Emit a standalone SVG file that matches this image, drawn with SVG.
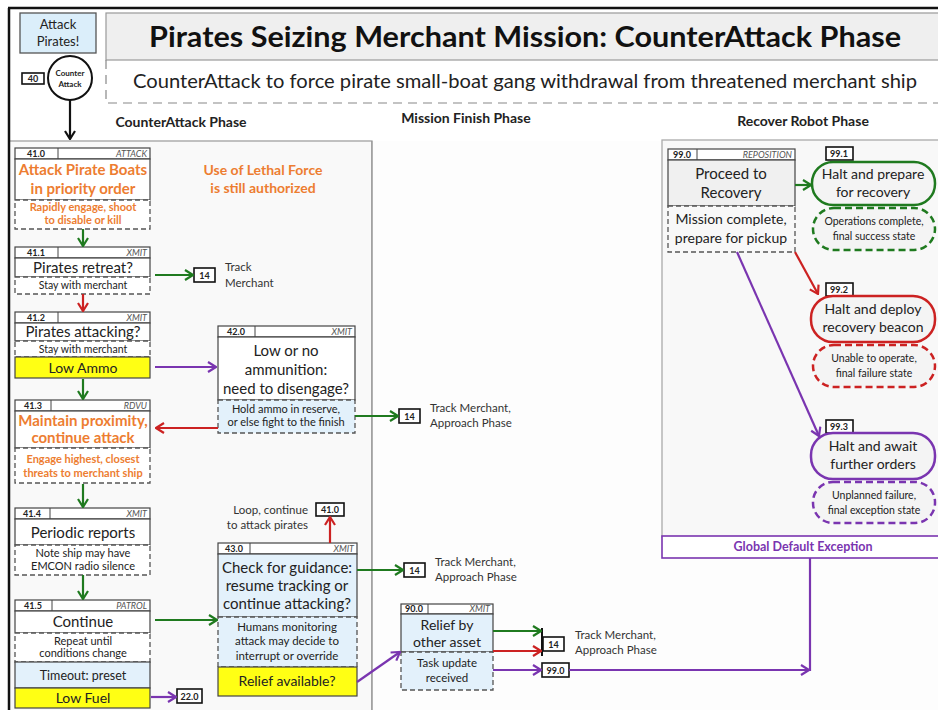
<svg xmlns="http://www.w3.org/2000/svg" width="938" height="710" viewBox="0 0 938 710">
<defs>
<style>
text{font-family:Lato,"Liberation Sans",sans-serif;fill:#222}
.c{text-anchor:middle}
.num{font-size:9px;font-weight:bold;text-anchor:middle}
.tag{font-size:9px;font-style:italic;text-anchor:end;fill:#555}
.hd{fill:#fff;stroke:#444;stroke-width:1.2}
.bd{fill:#fff;stroke:#444;stroke-width:1.2}
.bdb{fill:#e3f1fb;stroke:#444;stroke-width:1.2}
.bdg{fill:#f0f0f0;stroke:#444;stroke-width:1.2}
.ds{fill:#fff;stroke:#555;stroke-width:1.3;stroke-dasharray:5,3}
.dsb{fill:#e3f1fb;stroke:#555;stroke-width:1.3;stroke-dasharray:5,3}
.yl{fill:#ffff14;stroke:#444;stroke-width:1.2}
.t14{font-size:14px;text-anchor:middle}
.t15{font-size:15px;text-anchor:middle}
.t10{font-size:10.5px;text-anchor:middle}
.t11{font-size:11px;text-anchor:middle}
.or{fill:#ed7d31;font-weight:bold}
.ref{fill:#fff;stroke:#111;stroke-width:1.6}
.refn{font-size:9px;font-weight:bold;text-anchor:middle}
.lbl{font-size:11.5px;fill:#333}
.g{stroke:#1f7a1f;stroke-width:2.2;fill:none;marker-end:url(#ag)}
.r{stroke:#cc2222;stroke-width:2.2;fill:none;marker-end:url(#ar)}
.p{stroke:#7a35b0;stroke-width:2.2;fill:none;marker-end:url(#ap)}
.k{stroke:#111;stroke-width:2.2;fill:none;marker-end:url(#ak)}
.phase{font-size:14px;font-weight:bold;text-anchor:middle}
</style>
<marker id="ag" viewBox="0 0 10 12" refX="9" refY="6" markerWidth="10" markerHeight="12" markerUnits="userSpaceOnUse" orient="auto"><path d="M1,1 L9,6 L1,11" fill="none" stroke="#1f7a1f" stroke-width="2.2"/></marker>
<marker id="ar" viewBox="0 0 10 12" refX="9" refY="6" markerWidth="10" markerHeight="12" markerUnits="userSpaceOnUse" orient="auto"><path d="M1,1 L9,6 L1,11" fill="none" stroke="#cc2222" stroke-width="2.2"/></marker>
<marker id="ap" viewBox="0 0 10 12" refX="9" refY="6" markerWidth="10" markerHeight="12" markerUnits="userSpaceOnUse" orient="auto"><path d="M1,1 L9,6 L1,11" fill="none" stroke="#7a35b0" stroke-width="2.2"/></marker>
<marker id="ak" viewBox="0 0 10 12" refX="9" refY="6" markerWidth="10" markerHeight="12" markerUnits="userSpaceOnUse" orient="auto"><path d="M1,1 L9,6 L1,11" fill="none" stroke="#111" stroke-width="2.2"/></marker>
</defs>
<rect x="0" y="0" width="938" height="710" fill="#fff"/>
<g id="frame">
<rect x="9" y="141" width="363" height="572" fill="#f9f9f9" stroke="#999" stroke-width="1.2"/>
<rect x="372" y="141" width="570" height="572" fill="#fdfdfd"/>
<line x1="372" y1="141" x2="372" y2="710" stroke="#999" stroke-width="1.5"/>
<rect x="662" y="140" width="280" height="397" fill="#f8f8f8" stroke="#aaa" stroke-width="1.3"/>
<line x1="8" y1="8" x2="938" y2="8" stroke="#111" stroke-width="2.5"/>
<line x1="9" y1="8" x2="9" y2="710" stroke="#111" stroke-width="2.5"/>
<rect x="106" y="13" width="836" height="47" fill="#efefef" stroke="#999" stroke-width="1.2"/>
<text x="525" y="47" font-size="28" font-weight="bold" text-anchor="middle" textLength="752" lengthAdjust="spacingAndGlyphs" style="fill:#111">Pirates Seizing Merchant Mission: CounterAttack Phase</text>
<path d="M106,60 V103 H938" fill="none" stroke="#888" stroke-width="1.2" stroke-dasharray="9,6"/>
<text x="525" y="88" font-size="19" text-anchor="middle" textLength="784" lengthAdjust="spacingAndGlyphs">CounterAttack to force pirate small-boat gang withdrawal from threatened merchant ship</text>
<text x="181" y="127" class="phase">CounterAttack Phase</text>
<text x="466" y="123" class="phase">Mission Finish Phase</text>
<text x="803" y="126" class="phase">Recover Robot Phase</text>
<text x="263" y="175" class="t14 or">Use of Lethal Force</text>
<text x="263" y="193" class="t14 or">is still authorized</text>
</g>
<g id="start">
<rect x="20" y="13" width="76" height="40" fill="#dbeefa" stroke="#555" stroke-width="1.3"/>
<text x="58" y="29" font-size="13" text-anchor="middle">Attack</text>
<text x="58" y="46" font-size="13" text-anchor="middle">Pirates!</text>
<rect x="22" y="73" width="22" height="11" class="ref"/>
<text x="33" y="82" class="refn" font-size="8">40</text>
<circle cx="70" cy="78" r="22" fill="#fff" stroke="#111" stroke-width="2"/>
<text x="70" y="76" font-size="8" font-weight="bold" text-anchor="middle">Counter</text>
<text x="70" y="87" font-size="8" font-weight="bold" text-anchor="middle">Attack</text>
</g>
<g id="n41-0">
<rect x="15" y="148" width="135" height="11" class="hd"/><line x1="58" y1="148" x2="58" y2="159" stroke="#444"/>
<text x="36" y="157" class="num">41.0</text><text x="147" y="157" class="tag">ATTACK</text>
<rect x="15" y="159" width="135" height="41" class="bd"/>
<text x="83" y="175" class="t15 or">Attack Pirate Boats</text>
<text x="83" y="194" class="t15 or">in priority order</text>
<rect x="15" y="200" width="135" height="29" class="ds"/>
<text x="83" y="211" class="t11 or">Rapidly engage, shoot</text>
<text x="83" y="224" class="t11 or">to disable or kill</text>
</g>
<g id="n41-1">
<rect x="15" y="247" width="135" height="11" class="hd"/><line x1="58" y1="247" x2="58" y2="258" stroke="#444"/>
<text x="36" y="256" class="num">41.1</text><text x="147" y="256" class="tag">XMIT</text>
<rect x="15" y="258" width="135" height="19" class="bd"/>
<text x="83" y="273" class="t15">Pirates retreat?</text>
<rect x="15" y="277" width="135" height="17" class="ds"/>
<text x="83" y="289" class="t10">Stay with merchant</text>
</g>
<g id="n41-2">
<rect x="15" y="312" width="135" height="11" class="hd"/><line x1="58" y1="312" x2="58" y2="323" stroke="#444"/>
<text x="36" y="321" class="num">41.2</text><text x="147" y="321" class="tag">XMIT</text>
<rect x="15" y="323" width="135" height="18" class="bd"/>
<text x="83" y="337" class="t15">Pirates attacking?</text>
<rect x="15" y="341" width="135" height="16" class="ds"/>
<text x="83" y="353" class="t10">Stay with merchant</text>
<rect x="15" y="357" width="135" height="21" class="yl"/>
<text x="83" y="373" class="t14">Low Ammo</text>
</g>
<g id="n41-3">
<rect x="15" y="400" width="135" height="11" class="hd"/><line x1="51" y1="400" x2="51" y2="411" stroke="#444"/>
<text x="33" y="409" class="num">41.3</text><text x="147" y="409" class="tag">RDVU</text>
<rect x="15" y="411" width="135" height="37" class="bd"/>
<text x="83" y="426" class="t15 or">Maintain proximity,</text>
<text x="83" y="443" class="t15 or">continue attack</text>
<rect x="15" y="448" width="135" height="35" class="ds"/>
<text x="83" y="463" class="t11 or">Engage highest, closest</text>
<text x="83" y="477" class="t11 or">threats to merchant ship</text>
</g>
<g id="n41-4">
<rect x="15" y="508" width="135" height="11" class="hd"/><line x1="50" y1="508" x2="50" y2="519" stroke="#444"/>
<text x="32" y="517" class="num">41.4</text><text x="147" y="517" class="tag">XMIT</text>
<rect x="15" y="519" width="135" height="26" class="bd"/>
<text x="83" y="538" class="t15">Periodic reports</text>
<rect x="15" y="545" width="135" height="30" class="ds"/>
<text x="83" y="557" class="t11">Note ship may have</text>
<text x="83" y="570" class="t11">EMCON radio silence</text>
</g>
<g id="n41-5">
<rect x="15" y="600" width="135" height="11" class="hd"/><line x1="52" y1="600" x2="52" y2="611" stroke="#444"/>
<text x="33" y="609" class="num">41.5</text><text x="147" y="609" class="tag">PATROL</text>
<rect x="15" y="611" width="135" height="22" class="bd"/>
<text x="83" y="627" class="t15">Continue</text>
<rect x="15" y="633" width="135" height="29" class="ds"/>
<text x="83" y="645" class="t11">Repeat until</text>
<text x="83" y="657" class="t11">conditions change</text>
<rect x="15" y="662" width="135" height="26" fill="#e3f1fb" stroke="#444" stroke-width="1.2"/>
<text x="83" y="680" font-size="12.5" text-anchor="middle">Timeout: preset</text>
<rect x="15" y="688" width="135" height="20" class="yl"/>
<text x="83" y="703" class="t14">Low Fuel</text>
</g>
<g id="n42-0">
<rect x="218" y="326" width="137" height="11" class="hd"/><line x1="255" y1="326" x2="255" y2="337" stroke="#444"/>
<text x="236" y="335" class="num">42.0</text><text x="352" y="335" class="tag">XMIT</text>
<rect x="218" y="337" width="137" height="63" class="bd"/>
<text x="286" y="356" class="t15">Low or no</text>
<text x="286" y="375" class="t15">ammunition:</text>
<text x="286" y="394" class="t15">need to disengage?</text>
<rect x="218" y="400" width="137" height="33" class="dsb"/>
<text x="286" y="413" class="t11">Hold ammo in reserve,</text>
<text x="286" y="426" class="t11">or else fight to the finish</text>
</g>
<g id="n43-0">
<rect x="218" y="543" width="139" height="11" class="hd"/><line x1="250" y1="543" x2="250" y2="554" stroke="#444"/>
<text x="234" y="552" class="num">43.0</text><text x="354" y="552" class="tag">XMIT</text>
<rect x="218" y="554" width="139" height="63" class="bdb"/>
<text x="287" y="573" class="t15">Check for guidance:</text>
<text x="287" y="591" class="t15">resume tracking or</text>
<text x="287" y="609" class="t15">continue attacking?</text>
<rect x="218" y="617" width="139" height="50" class="dsb"/>
<text x="287" y="631" font-size="11.5" text-anchor="middle">Humans monitoring</text>
<text x="287" y="645" font-size="11.5" text-anchor="middle">attack may decide to</text>
<text x="287" y="660" font-size="11.5" text-anchor="middle">interrupt or override</text>
<rect x="218" y="667" width="139" height="29" class="yl"/>
<text x="287" y="686" class="t14">Relief available?</text>
</g>
<g id="n90-0">
<rect x="401" y="604" width="92" height="10" class="hd"/><line x1="428" y1="604" x2="428" y2="614" stroke="#444"/>
<text x="414" y="612" class="num">90.0</text><text x="490" y="612" class="tag">XMIT</text>
<rect x="401" y="614" width="92" height="38" class="bdb"/>
<text x="447" y="630" class="t14">Relief by</text>
<text x="447" y="647" class="t14">other asset</text>
<rect x="401" y="652" width="92" height="38" class="dsb"/>
<text x="447" y="667" font-size="11.5" text-anchor="middle">Task update</text>
<text x="447" y="682" font-size="11.5" text-anchor="middle">received</text>
</g>
<g id="n99-0">
<rect x="668" y="149" width="127" height="11" class="hd"/><line x1="697" y1="149" x2="697" y2="160" stroke="#444"/>
<text x="682" y="158" class="num">99.0</text><text x="792" y="158" class="tag">REPOSITION</text>
<rect x="668" y="160" width="127" height="46" class="bdg"/>
<text x="731" y="179" class="t15">Proceed to</text>
<text x="731" y="198" class="t15">Recovery</text>
<rect x="668" y="206" width="127" height="46" class="ds" style="fill:#f8f8f8"/>
<text x="731" y="224" font-size="14" text-anchor="middle">Mission complete,</text>
<text x="731" y="243" font-size="14" text-anchor="middle">prepare for pickup</text>
</g>
<g id="n99-1">
<rect x="826" y="147" width="27" height="13" class="ref"/>
<text x="839" y="157" class="refn">99.1</text>
<rect x="812" y="162" width="123" height="43" rx="21" fill="#f4f4f4" stroke="#1f7a1f" stroke-width="2.5"/>
<text x="873" y="179" class="t14">Halt and prepare</text>
<text x="873" y="197" class="t14">for recovery</text>
<rect x="813" y="208" width="122" height="42" rx="21" fill="#f4f4f4" stroke="#1f7a1f" stroke-width="2.5" stroke-dasharray="7,4"/>
<text x="874" y="225" font-size="10.5" text-anchor="middle">Operations complete,</text>
<text x="874" y="240" font-size="10.5" text-anchor="middle">final success state</text>
</g>
<g id="n99-2">
<rect x="826" y="283" width="27" height="13" class="ref"/>
<text x="839" y="293" class="refn">99.2</text>
<rect x="811" y="296" width="124" height="46" rx="22" fill="#f4f4f4" stroke="#cc2222" stroke-width="2.5"/>
<text x="873" y="314" class="t14">Halt and deploy</text>
<text x="873" y="332" class="t14">recovery beacon</text>
<rect x="813" y="345" width="122" height="42" rx="21" fill="#f4f4f4" stroke="#cc2222" stroke-width="2.5" stroke-dasharray="7,4"/>
<text x="874" y="362" font-size="10.5" text-anchor="middle">Unable to operate,</text>
<text x="874" y="377" font-size="10.5" text-anchor="middle">final failure state</text>
</g>
<g id="n99-3">
<rect x="826" y="420" width="27" height="13" class="ref"/>
<text x="839" y="430" class="refn">99.3</text>
<rect x="811" y="433" width="124" height="46" rx="22" fill="#f4f4f4" stroke="#7a35b0" stroke-width="2.5"/>
<text x="873" y="451" class="t14">Halt and await</text>
<text x="873" y="469" class="t14">further orders</text>
<rect x="813" y="482" width="122" height="41" rx="20" fill="#f4f4f4" stroke="#7a35b0" stroke-width="2.5" stroke-dasharray="7,4"/>
<text x="874" y="499" font-size="10.5" text-anchor="middle">Unplanned failure,</text>
<text x="874" y="514" font-size="10.5" text-anchor="middle">final exception state</text>
</g>
<g id="global-exception">
<rect x="662" y="536" width="280" height="22" fill="#fff" stroke="#7a35b0" stroke-width="1.6"/>
<text x="803" y="551" font-size="12.5" font-weight="bold" text-anchor="middle" style="fill:#7a35b0">Global Default Exception</text>
</g>
<g id="refs">
<rect x="194" y="268" width="21" height="14" class="ref"/><text x="204.5" y="278.5" class="refn">14</text>
<text x="225" y="271" class="lbl">Track</text><text x="225" y="287" class="lbl">Merchant</text>
<rect x="399" y="409" width="21" height="14" class="ref"/><text x="409.5" y="419.5" class="refn">14</text>
<text x="430" y="412" class="lbl">Track Merchant,</text><text x="430" y="427" class="lbl">Approach Phase</text>
<rect x="316" y="503" width="28" height="13" class="ref"/><text x="330" y="513" class="refn">41.0</text>
<text x="308" y="514" class="lbl" text-anchor="end">Loop, continue</text><text x="308" y="529" class="lbl" text-anchor="end">to attack pirates</text>
<rect x="404" y="563" width="21" height="14" class="ref"/><text x="414.5" y="573.5" class="refn">14</text>
<text x="435" y="566" class="lbl">Track Merchant,</text><text x="435" y="581" class="lbl">Approach Phase</text>
<rect x="177" y="689" width="25" height="14" class="ref"/><text x="189.5" y="699.5" class="refn">22.0</text>
<line x1="542" y1="628" x2="542" y2="656" stroke="#111" stroke-width="2"/>
<rect x="543" y="637" width="21" height="14" class="ref"/><text x="553.5" y="647.5" class="refn">14</text>
<text x="575" y="639" class="lbl">Track Merchant,</text><text x="575" y="654" class="lbl">Approach Phase</text>
<rect x="542" y="663" width="27" height="14" class="ref"/><text x="555.5" y="673.5" class="refn">99.0</text>
</g>
<g id="connectors">
<path class="k" d="M70,100 V139"/>
<path class="g" d="M83,229 V246"/>
<path class="g" d="M155,275 H193"/>
<path class="r" d="M83,294 V311"/>
<path class="p" d="M155,367 H216"/>
<path class="g" d="M83,379 V399"/>
<path class="r" d="M218,428 H156"/>
<path class="g" d="M355,416 H398"/>
<path class="g" d="M83,484 V507"/>
<path class="g" d="M83,575 V599"/>
<path class="g" d="M155,620 H217"/>
<path class="p" d="M151,697 H176"/>
<path class="r" d="M330,543 V517"/>
<path class="g" d="M357,570 H403"/>
<path class="p" d="M357,682 L400,652"/>
<path class="g" d="M493,631 H541"/>
<path class="r" d="M493,651 H541"/>
<path class="p" d="M493,670 H541"/>
<path class="p" d="M569,670 H809"/>
<line x1="810" y1="558" x2="810" y2="671" stroke="#7a35b0" stroke-width="2.2"/>
<path class="g" d="M795,185 H811"/>
<path class="r" d="M795,252 L818,294"/>
<path class="p" d="M737,252 L819,436"/>
</g>
</svg>
